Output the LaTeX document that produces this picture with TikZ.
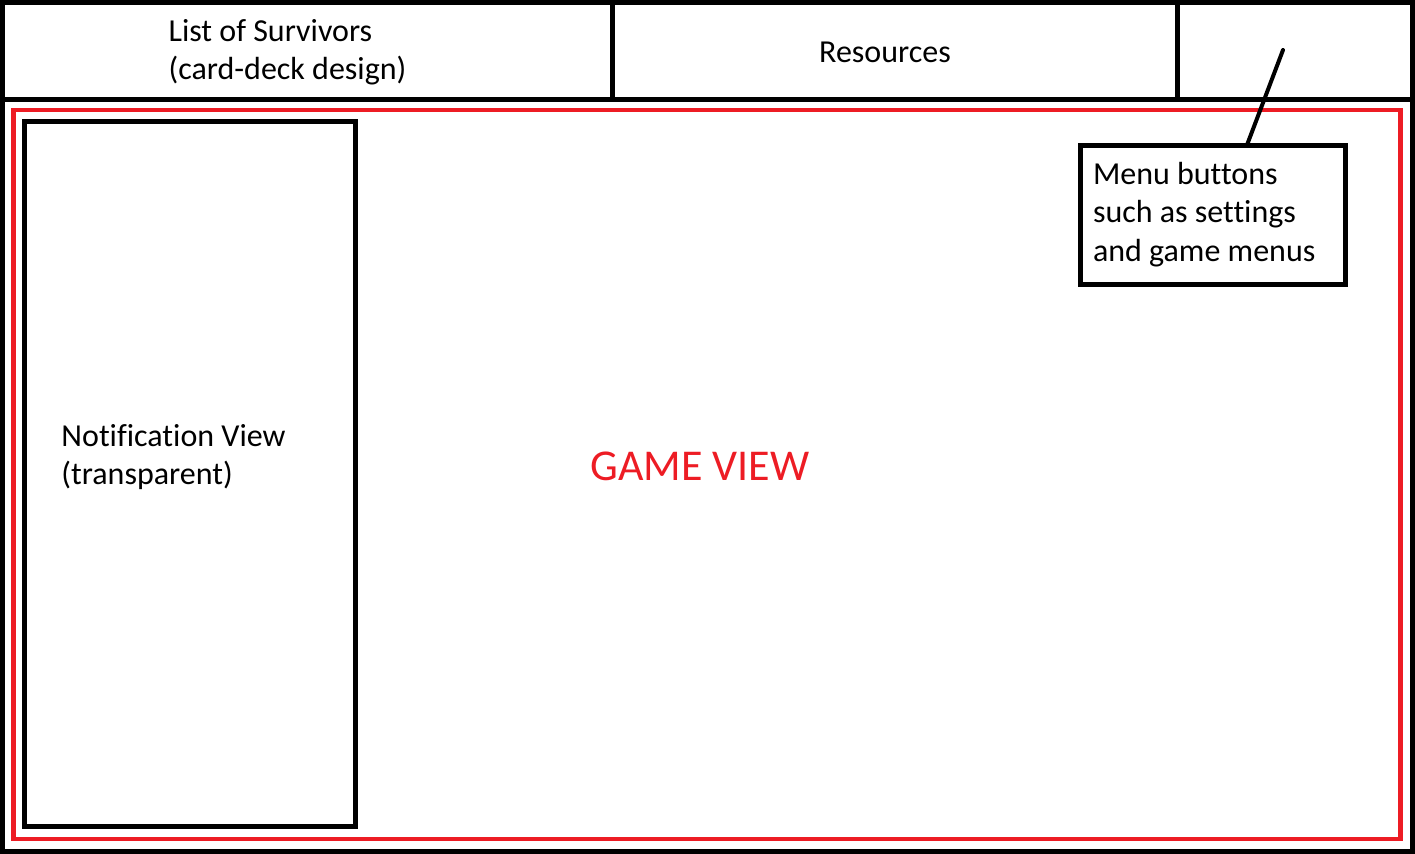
\documentclass[tikz,border=0pt]{standalone}
\usepackage{fontspec}
\setmainfont{Carlito}[Ligatures=NoCommon]
\usetikzlibrary{calc}
\definecolor{paintred}{HTML}{ED1C24}
\tikzset{
  cell/.style 2 args={draw, line width=3.75pt, minimum width=#1*0.75pt, minimum height=#2*0.75pt, inner sep=0pt, outer sep=0pt},
  lbl/.style={font=\fontsize{24}{28.8}\selectfont, inner sep=0pt, align=left},
  gv/.style={font=\fontsize{33}{40}\selectfont, text=paintred, inner sep=0pt},
  pointer/.style={line width=3pt, line cap=round}
}
\begin{document}
\begin{tikzpicture}[x=0.75pt, y=-0.75pt]
\useasboundingbox (0,0) rectangle (1415,854);
\node[cell={1410}{849}] (frame) at (707.5,427) {};
\node[cell={610}{97}] (survcell) at (307.5,51) {};
\node[cell={565}{97}] (rescell) at (895,51) {};
\node[cell={235}{97}] (menucell) at (1295,51) {};
\node[cell={1387}{729}, draw=paintred, line width=3.5pt] (game) at (707,474.5) {};
\node[cell={331}{705}] (notif) at (190,473.5) {};
\node[cell={265}{139}, lbl, inner xsep=9.75pt, text width=239*0.75pt, align=flush left] (menu) at (1212.5,214.5) {Menu buttons\\such as settings\\and game menus};
\node[lbl, anchor=base west] (survtext) at (168.3,79.5) {List of Survivors\\(card-deck design)};
\node[lbl, anchor=base] (restext) at (885,62) {Resources};
\node[lbl, anchor=base west] (notiftext) at (61.2,484.5) {Notification View\\(transparent)};
\node[gv, anchor=base west] (gvtext) at (590,480) {GAME VIEW};
\coordinate (tip) at (1283,50);
\draw[pointer] (tip) -- ($(menu.north)+(34.5*0.75pt,0)$);
\end{tikzpicture}
\end{document}
